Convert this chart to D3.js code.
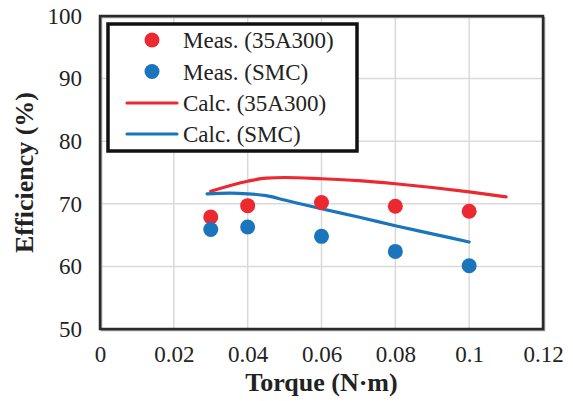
<!DOCTYPE html>
<html><head><meta charset="utf-8">
<script src="https://cdn.jsdelivr.net/npm/d3@7"></script>
<style>html,body{margin:0;padding:0;background:#fff;}svg{display:block;}</style>
</head><body><svg id="c" width="573" height="401"></svg>
<script>
const xTicks = [0, 0.02, 0.04, 0.06, 0.08, 0.1, 0.12];
const xTickLabels = ["0", "0.02", "0.04", "0.06", "0.08", "0.1", "0.12"];
const yTicks = [50, 60, 70, 80, 90, 100];
const measTorque = [0.03, 0.04, 0.06, 0.08, 0.1];
const meas35A300 = [67.9, 69.7, 70.2, 69.6, 68.8];
const measSMC = [65.9, 66.3, 64.8, 62.4, 60.1];
const calc35A300Torque = [0.03, 0.04, 0.045, 0.05, 0.06, 0.07, 0.08, 0.09, 0.1, 0.11];
const calc35A300 = [72.0, 73.6, 74.1, 74.2, 74.0, 73.7, 73.2, 72.6, 71.9, 71.1];
const calcSMCTorque = [0.029, 0.035, 0.04, 0.045, 0.05, 0.06, 0.07, 0.08, 0.09, 0.1];
const calcSMC = [71.6, 71.7, 71.6, 71.3, 70.6, 69.2, 67.9, 66.5, 65.2, 63.9];
const legendLabels = ["Meas. (35A300)", "Meas. (SMC)", "Calc. (35A300)", "Calc. (SMC)"];

const RED = "#ec2830", BLUE = "#1a75bc";
const svg = d3.select("#c");
const L = 100, R = 543, T = 16, B = 329;
const x = d3.scaleLinear().domain([0, 0.12]).range([L, R]);
const y = d3.scaleLinear().domain([50, 100]).range([B, T]);
const font = "'Liberation Serif','Times New Roman','DejaVu Serif',serif";

// gridlines
const g = svg.append("g");
g.selectAll("line.vx").data(xTicks.slice(1, -1)).enter().append("line")
  .attr("x1", d => x(d)).attr("x2", d => x(d)).attr("y1", T).attr("y2", B)
  .attr("stroke", "#d9d9d9").attr("stroke-width", 1.5);
g.selectAll("line.hy").data(yTicks.slice(1, -1)).enter().append("line")
  .attr("x1", L).attr("x2", R).attr("y1", d => y(d)).attr("y2", d => y(d))
  .attr("stroke", "#d9d9d9").attr("stroke-width", 1.5);

// axes (labels only)
const xAxis = d3.axisBottom(x).tickValues(xTicks).tickFormat((d, i) => xTickLabels[i]).tickSize(0).tickPadding(17);
const ax = svg.append("g").attr("transform", `translate(0,${B})`).call(xAxis);
ax.select(".domain").remove();
ax.selectAll("text").attr("font-family", font).attr("font-size", 23).attr("fill", "#222");

const yAxis = d3.axisLeft(y).tickValues(yTicks).tickSize(0).tickPadding(18);
const ay = svg.append("g").attr("transform", `translate(${L},0)`).call(yAxis);
ay.select(".domain").remove();
ay.selectAll("text").attr("font-family", font).attr("font-size", 23).attr("fill", "#222");

// frame
svg.append("rect").attr("x", L + 1.5).attr("y", T + 1.5).attr("width", R - L).attr("height", B - T)
  .attr("fill", "none").attr("stroke", "#9a9a9a").attr("stroke-width", 1.5);
svg.append("rect").attr("x", L).attr("y", T).attr("width", R - L).attr("height", B - T)
  .attr("fill", "none").attr("stroke", "#2a2a2a").attr("stroke-width", 2.5);

// lines
const line = d3.line().x(d => x(d[0])).y(d => y(d[1])).curve(d3.curveMonotoneX);
svg.append("path").datum(d3.zip(calc35A300Torque, calc35A300)).attr("d", line)
  .attr("fill", "none").attr("stroke", RED).attr("stroke-width", 3.2).attr("stroke-linecap", "round");
svg.append("path").datum(d3.zip(calcSMCTorque, calcSMC)).attr("d", line)
  .attr("fill", "none").attr("stroke", BLUE).attr("stroke-width", 3.2).attr("stroke-linecap", "round");

// points
svg.selectAll("circle.r").data(d3.zip(measTorque, meas35A300)).enter().append("circle")
  .attr("cx", d => x(d[0])).attr("cy", d => y(d[1])).attr("r", 7.5).attr("fill", RED);
svg.selectAll("circle.b").data(d3.zip(measTorque, measSMC)).enter().append("circle")
  .attr("cx", d => x(d[0])).attr("cy", d => y(d[1])).attr("r", 7.5).attr("fill", BLUE);

// titles
svg.append("text").attr("x", x(0.06)).attr("y", 391).attr("text-anchor", "middle")
  .attr("font-family", font).attr("font-size", 26).attr("font-weight", "bold").attr("fill", "#222")
  .text("Torque (N·m)");
svg.append("text").attr("transform", `translate(33,${(T + B) / 2}) rotate(-90)`).attr("text-anchor", "middle")
  .attr("font-family", font).attr("font-size", 26).attr("font-weight", "bold").attr("fill", "#222")
  .text("Efficiency (%)");

// legend
const lg = svg.append("g");
lg.append("rect").attr("x", 108).attr("y", 24).attr("width", 249).attr("height", 127)
  .attr("fill", "#fff").attr("stroke", "#111").attr("stroke-width", 3.5);
const rows = [40, 71.5, 103, 134];
const kinds = ["dot", "dot", "line", "line"];
const cols = [RED, BLUE, RED, BLUE];
legendLabels.forEach((t, i) => {
  if (kinds[i] === "dot") {
    lg.append("circle").attr("cx", 152).attr("cy", rows[i]).attr("r", 7.5).attr("fill", cols[i]);
  } else {
    lg.append("line").attr("x1", 127).attr("x2", 177).attr("y1", rows[i]).attr("y2", rows[i])
      .attr("stroke", cols[i]).attr("stroke-width", 3.2).attr("stroke-linecap", "round");
  }
  lg.append("text").attr("x", 183).attr("y", rows[i]).attr("dy", "0.35em")
    .attr("font-family", font).attr("font-size", 23).attr("fill", "#222").text(t);
});
</script></body></html>
